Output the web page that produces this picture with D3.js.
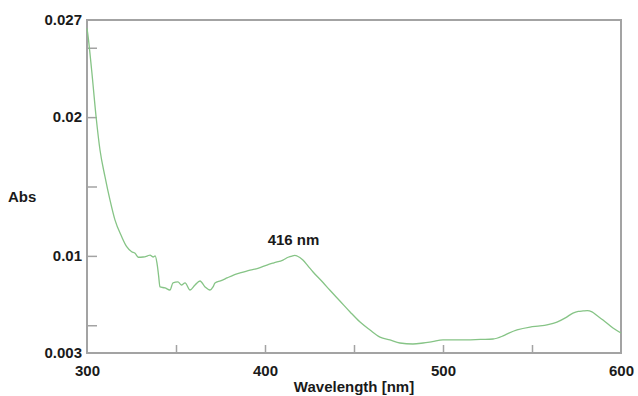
<!DOCTYPE html>
<html>
<head>
<meta charset="utf-8">
<script src="https://cdn.jsdelivr.net/npm/d3@7"></script>
<style>
  html, body { margin: 0; padding: 0; background: #fff; }
  svg text { font-family: "Liberation Sans", Arial, sans-serif; font-weight: bold; font-size: 15px; fill: #1a1a1a; }
</style>
</head>
<body>
<div class="container"></div>
<script>
// spectrum
const wavelength = [300, 300.4, 302.6, 305.1, 307.3, 310.1, 312.9, 315.7, 319.5, 322.3, 325.1, 327, 328.8, 331.5, 334, 335.4, 337.1, 338.3, 339.3, 340.2, 341, 343.8, 346.6, 348.3, 351.1, 353, 355.1, 357.9, 360.7, 363.5, 366.3, 369.1, 370.8, 371.9, 375, 378.7, 382, 386, 391.6, 396, 401.1, 405, 410.1, 413, 415.2, 416.8, 418, 421.3, 424, 427, 432.6, 436.5, 442.1, 447.8, 453.4, 459, 464.6, 470.2, 475.8, 483.1, 488.8, 494, 500, 507, 513.5, 521, 528.1, 533.7, 537, 541.6, 548.9, 554.5, 559, 564, 569, 573, 576, 578.7, 581, 583.7, 586.5, 589.9, 595.5, 600];
const absorbance = [0.0264, 0.02604, 0.0234, 0.02003, 0.01763, 0.01571, 0.01403, 0.01259, 0.01138, 0.01066, 0.0103, 0.01019, 0.0099, 0.00992, 0.0100, 0.01006, 0.00992, 0.0100, 0.00949, 0.0086, 0.00776, 0.00769, 0.00754, 0.00805, 0.00812, 0.0079, 0.00805, 0.00754, 0.0079, 0.00819, 0.00776, 0.00754, 0.00776, 0.00805, 0.0082, 0.00841, 0.0086, 0.00877, 0.00898, 0.0091, 0.00934, 0.0095, 0.0097, 0.0099, 0.00999, 0.01003, 0.00999, 0.0097, 0.0093, 0.00884, 0.00808, 0.00752, 0.00675, 0.00596, 0.00523, 0.00466, 0.00415, 0.00394, 0.00372, 0.00365, 0.00372, 0.00382, 0.00394, 0.00394, 0.00394, 0.00398, 0.00401, 0.00423, 0.00443, 0.00466, 0.00487, 0.00495, 0.00505, 0.00523, 0.00555, 0.00588, 0.006, 0.00603, 0.00605, 0.00596, 0.0057, 0.00538, 0.0048, 0.00444];

const xTickMarks = [350, 400, 450, 500, 550];
const xTickLabels = [300, 400, 500, 600];
const yTickMarks = [0.005, 0.01, 0.015, 0.02, 0.025];
const yTickLabels = [0.003, 0.01, 0.02, 0.027];
const peakWavelength = 416;

const w = 638, h = 396;
const margin = {left: 87, right: 17, top: 20, bottom: 43};

const svg = d3.select('.container')
    .append('svg')
    .attr('width', w)
    .attr('height', h);

const x = d3.scaleLinear().domain([300, 600]).range([margin.left, w - margin.right]);
const y = d3.scaleLinear().domain([0.003, 0.027]).range([h - margin.bottom, margin.top]);

const axisColor = '#a3a3a3';

// inward tick marks
svg.append('g')
    .attr('transform', `translate(${margin.left},0)`)
    .call(d3.axisLeft(y).tickValues(yTickMarks).tickSize(-10).tickFormat(''))
    .call(g => g.select('.domain').remove())
    .call(g => g.selectAll('line').attr('stroke', axisColor).attr('stroke-width', 1.5));

svg.append('g')
    .attr('transform', `translate(0,${y.range()[0]})`)
    .call(d3.axisBottom(x).tickValues(xTickMarks).tickSize(-8).tickFormat(''))
    .call(g => g.select('.domain').remove())
    .call(g => g.selectAll('line').attr('stroke', axisColor).attr('stroke-width', 1.5));

// labels
svg.append('g')
    .attr('transform', `translate(${margin.left},0)`)
    .call(d3.axisLeft(y).tickValues(yTickLabels).tickSize(0).tickPadding(5).tickFormat(d => String(d)))
    .call(g => g.select('.domain').remove())
    .call(g => g.selectAll('text').attr('font-size', null).attr('font-family', null).attr('fill', null));

svg.append('g')
    .attr('transform', `translate(0,${y.range()[0]})`)
    .call(d3.axisBottom(x).tickValues(xTickLabels).tickSize(0).tickPadding(12))
    .call(g => g.select('.domain').remove())
    .call(g => g.selectAll('text').attr('font-size', null).attr('font-family', null).attr('fill', null));

// frame
svg.append('rect')
    .attr('x', x.range()[0])
    .attr('y', y.range()[1])
    .attr('width', x.range()[1] - x.range()[0])
    .attr('height', y.range()[0] - y.range()[1])
    .attr('fill', 'none')
    .attr('stroke', axisColor)
    .attr('stroke-width', 2);

const line = d3.line()
    .x((d, i) => x(wavelength[i]))
    .y(d => y(d))
    .curve(d3.curveMonotoneX);

svg.append('path')
    .attr('d', line(absorbance))
    .attr('fill', 'none')
    .attr('stroke', '#86c486')
    .attr('stroke-width', 1.3);

const peakIndex = d3.maxIndex(absorbance.map((a, i) => wavelength[i] > 380 && wavelength[i] < 450 ? a : 0));
svg.append('text')
    .attr('x', x(peakWavelength))
    .attr('y', y(absorbance[peakIndex]) - 10)
    .attr('text-anchor', 'middle')
    .text(`${peakWavelength} nm`);

svg.append('text')
    .attr('x', 8)
    .attr('y', 202)
    .text('Abs');

svg.append('text')
    .attr('x', (x.range()[0] + x.range()[1]) / 2)
    .attr('y', 392)
    .attr('text-anchor', 'middle')
    .text('Wavelength [nm]');
</script>
</body>
</html>
